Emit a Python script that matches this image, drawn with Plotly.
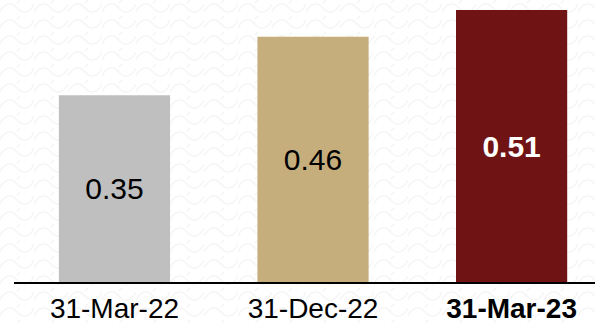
import base64
import plotly.graph_objects as go

# Ratio at each reporting date
periods = ["31-Mar-22", "31-Dec-22", "31-Mar-23"]
values = [0.35, 0.46, 0.51]
bar_colors = ["#bfbfbf", "#c5ae7c", "#701314"]
label_colors = ["#000000", "#000000", "#ffffff"]

x_pos = list(range(len(periods)))
bar_text = [f"{v:.2f}" for v in values]
bar_text[-1] = f"<b>{bar_text[-1]}</b>"
tick_text = list(periods)
tick_text[-1] = f"<b>{tick_text[-1]}</b>"

W, H = 595, 323
ML, MB = 14, 41

# Faint scale-texture backdrop as an SVG tile pattern
svg = f"""<svg xmlns='http://www.w3.org/2000/svg' width='{W}' height='{H}'>
<defs><pattern id='p' width='34' height='16' patternUnits='userSpaceOnUse'>
<path d='M0,12 C5,2 12,2 17,8 C22,14 29,14 34,4' fill='none' stroke='#f5f5f5' stroke-width='1.5'/>
<path d='M-17,4 C-12,-6 -5,-6 0,0 M17,4 C22,-6 29,-6 34,0' fill='none' stroke='#f5f5f5' stroke-width='1.5'/>
</pattern></defs>
<rect width='{W}' height='{H}' fill='#ffffff'/>
<rect width='{W}' height='{H}' fill='url(#p)'/>
</svg>"""
bg_src = "data:image/svg+xml;base64," + base64.b64encode(svg.encode()).decode()

plot_w = W - ML
plot_h = H - MB

fig = go.Figure(
    go.Bar(
        x=x_pos,
        y=values,
        width=0.56,
        marker=dict(color=bar_colors, line=dict(width=0)),
        text=bar_text,
        textposition="inside",
        insidetextanchor="middle",
        textangle=0,
        textfont=dict(family="Liberation Sans, Arial, sans-serif", size=30, color=label_colors),
        hoverinfo="skip",
    )
)

fig.add_layout_image(
    source=bg_src,
    xref="paper", yref="paper",
    x=-ML / plot_w, y=1,
    sizex=W / plot_w, sizey=H / plot_h,
    xanchor="left", yanchor="top",
    sizing="stretch",
    layer="below",
)

fig.update_layout(
    width=W,
    height=H,
    margin=dict(l=ML, r=0, t=0, b=MB, autoexpand=False),
    paper_bgcolor="#ffffff",
    plot_bgcolor="rgba(0,0,0,0)",
    showlegend=False,
    font=dict(family="Liberation Sans, Arial, sans-serif", color="#000000"),
    xaxis=dict(
        range=[-0.506, 2.42],
        tickmode="array",
        tickvals=x_pos,
        ticktext=tick_text,
        tickfont=dict(size=28, color="#000000"),
        ticklabelstandoff=1,
        automargin=False,
        showgrid=False,
        zeroline=False,
        showline=True,
        linecolor="#000000",
        linewidth=1.5,
        ticks="",
        fixedrange=True,
    ),
    yaxis=dict(
        range=[0, 0.5288],
        visible=False,
        automargin=False,
        showgrid=False,
        zeroline=False,
        fixedrange=True,
    ),
)

fig.write_html("out.html")
